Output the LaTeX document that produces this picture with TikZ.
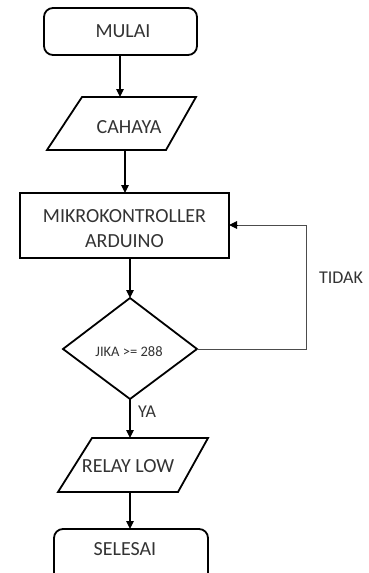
\documentclass[tikz,border=0pt]{standalone}
\usepackage{fontspec}
\setmainfont{Carlito}
\usetikzlibrary{arrows.meta}
\begin{document}
\begin{tikzpicture}[x=1pt,y=-1pt,
  shapeline/.style={draw=black,line width=1.8pt,line join=miter},
  flowarrow/.style={draw=black,line width=1.2pt,-{Triangle[length=8pt,width=7.5pt]}},
  loopline/.style={draw=black!70,line width=1pt},
  maintext/.style={font=\fontsize{20}{25}\selectfont,inner sep=0pt,align=center,text=black!80},
  smalltext/.style={font=\fontsize{14.5}{17}\selectfont,inner sep=0pt,text=black!80},
  labeltext/.style={font=\fontsize{18}{21}\selectfont,inner sep=0pt,text=black!80}]
\useasboundingbox (0,0) rectangle (368,573);
\clip (0,0) rectangle (368,573);
% shapes
\draw[shapeline,rounded corners=9pt] (44,8) rectangle (197,55);
\draw[shapeline] (82,97) -- (196,97) -- (166,150) -- (47,150) -- cycle;
\draw[shapeline] (20,193) rectangle (229,258);
\draw[shapeline] (130,298) -- (197,349) -- (130,399) -- (63,349) -- cycle;
\draw[shapeline] (92,438) -- (208,438) -- (178,492) -- (58,492) -- cycle;
\draw[shapeline,rounded corners=9pt] (54,529) rectangle (208,600);
% named connector points
\coordinate (mulaiB) at (120,55);
\coordinate (cahayaT) at (120,97);
\coordinate (cahayaB) at (125,150);
\coordinate (mikroT) at (125,193);
\coordinate (mikroB) at (130,258);
\coordinate (mikroR) at (229,225);
\coordinate (jikaT) at (130,298);
\coordinate (jikaR) at (197,349);
\coordinate (jikaB) at (130,399);
\coordinate (relayT) at (130,438);
\coordinate (relayB) at (130,492);
\coordinate (selesaiT) at (130,529);
\coordinate (loopA) at (306,349);
\coordinate (loopB) at (306,225);
% texts
\node[maintext] (mulai) at (123,31) {MULAI};
\node[maintext] (cahaya) at (129,127.5) {CAHAYA};
\node[maintext] (mikro) at (124.5,228.5) {MIKROKONTROLLER\\ARDUINO};
\node[smalltext] (jika) at (129,352) {JIKA >= 288};
\node[maintext] (relay) at (128,466) {RELAY LOW};
\node[maintext] (selesai) at (125,549) {SELESAI};
\node[labeltext] (tidak) at (341,278) {TIDAK};
\node[labeltext] (ya) at (147,412) {YA};
% connectors
\draw[flowarrow] (mulaiB) -- (cahayaT);
\draw[flowarrow] (cahayaB) -- (mikroT);
\draw[flowarrow] (mikroB) -- (jikaT);
\draw[flowarrow] (jikaB) -- (relayT);
\draw[flowarrow] (relayB) -- (selesaiT);
\draw[loopline] (jikaR) -- (loopA) -- (loopB) -- ([xshift=8pt]mikroR);
\draw[flowarrow,line width=1pt] ([xshift=8pt]mikroR) -- (mikroR);
\end{tikzpicture}
\end{document}
